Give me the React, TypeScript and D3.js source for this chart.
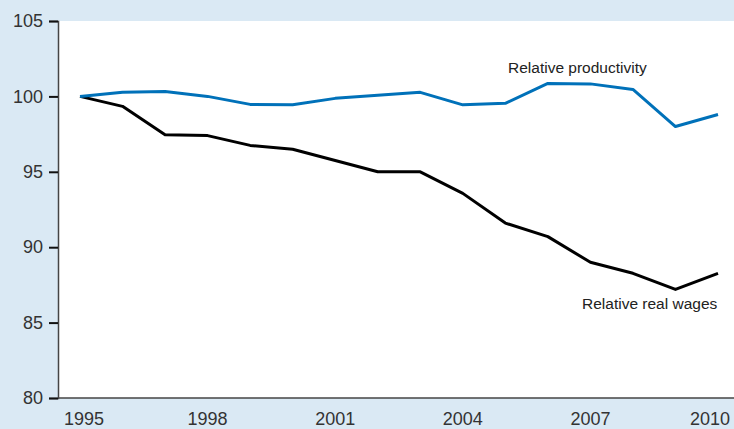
import React, { useEffect, useRef } from 'react';
import * as d3 from 'd3';

const years = [1995, 1996, 1997, 1998, 1999, 2000, 2001, 2002, 2003, 2004, 2005, 2006, 2007, 2008, 2009, 2010];
const productivity = [100, 100.27, 100.33, 100.0, 99.47, 99.44, 99.87, 100.07, 100.27, 99.44, 99.54, 100.86, 100.83, 100.46, 98.0, 98.8];
const realWages = [100, 99.34, 97.45, 97.4, 96.75, 96.5, 95.75, 95.0, 95.0, 93.57, 91.6, 90.7, 89.0, 88.27, 87.2, 88.27];
const yTicks = [80, 85, 90, 95, 100, 105];
const xTicks = [1995, 1998, 2001, 2004, 2007, 2010];

const App = () => {
  const svgRef = useRef(null);

  useEffect(() => {
    const width = 734;
    const height = 429;
    const margin = { top: 21, right: 0, bottom: 31, left: 58 };
    const font = '"Liberation Sans", Arial, sans-serif';

    const svg = d3.select(svgRef.current);
    svg.selectAll('*').remove();
    svg.attr('width', width).attr('height', height);

    // background band + white plot
    svg.append('rect').attr('width', width).attr('height', height).attr('fill', '#dae9f4');
    svg.append('rect')
      .attr('x', margin.left).attr('y', margin.top)
      .attr('width', width - margin.left - margin.right)
      .attr('height', height - margin.top - margin.bottom)
      .attr('fill', '#fff');

    const x = d3.scaleLinear().domain([1995, 2010]).range([80, 718]);
    const y = d3.scaleLinear().domain([80, 105]).range([height - margin.bottom, margin.top]);

    // y axis
    const yAxis = svg.append('g').attr('transform', `translate(${margin.left},0)`)
      .call(d3.axisLeft(y).tickValues(yTicks).tickSize(9).tickPadding(6).tickFormat(d3.format('d')));
    yAxis.select('.domain').attr('stroke', '#444').attr('stroke-width', 1.5);
    yAxis.selectAll('.tick line').attr('stroke', '#111').attr('stroke-width', 2);
    yAxis.selectAll('.tick text')
      .attr('font-family', font).attr('font-size', 18).attr('fill', '#333');

    // bottom line
    svg.append('line')
      .attr('x1', margin.left).attr('x2', width)
      .attr('y1', y(80)).attr('y2', y(80))
      .attr('stroke', '#444').attr('stroke-width', 1.5);

    // x labels
    svg.selectAll('.xlab').data(xTicks).join('text')
      .attr('class', 'xlab')
      .attr('x', (d) => Math.max(84, Math.min(x(d), 710)))
      .attr('y', height - 4)
      .attr('text-anchor', 'middle')
      .attr('font-family', font).attr('font-size', 18).attr('fill', '#333')
      .text((d) => d);

    const line = d3.line()
      .x((d, i) => x(years[i]))
      .y((d) => y(d));

    svg.append('path').datum(realWages)
      .attr('d', line).attr('fill', 'none')
      .attr('stroke', '#000').attr('stroke-width', 3).attr('stroke-linejoin', 'round');

    svg.append('path').datum(productivity)
      .attr('d', line).attr('fill', 'none')
      .attr('stroke', '#0071b9').attr('stroke-width', 3).attr('stroke-linejoin', 'round');

    // series labels
    svg.append('text')
      .attr('x', 508).attr('y', 73)
      .attr('font-family', font).attr('font-size', 15.5).attr('fill', '#222')
      .text('Relative productivity');
    svg.append('text')
      .attr('x', 582).attr('y', 309)
      .attr('font-family', font).attr('font-size', 15.5).attr('fill', '#222')
      .text('Relative real wages');
  }, []);

  return <svg ref={svgRef} style={{ position: 'absolute', left: 0, top: 0 }} />;
};

export default App;
